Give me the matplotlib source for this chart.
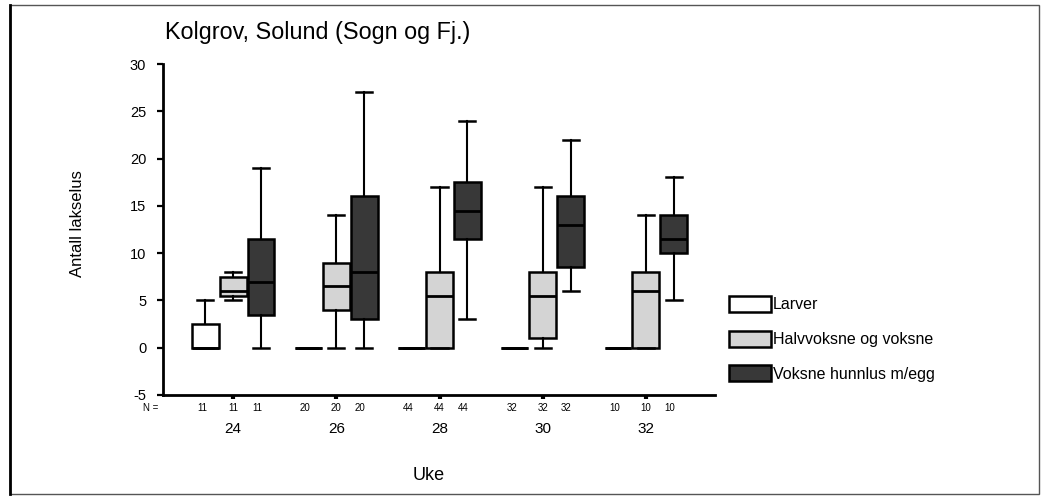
import matplotlib
matplotlib.use("Agg")
import matplotlib.pyplot as plt
from matplotlib.patches import Patch, Rectangle
from matplotlib.lines import Line2D

plt.rcParams['font.family'] = ['Liberation Sans', 'DejaVu Sans']
plt.rcParams['axes.unicode_minus'] = False

weeks = ["24", "26", "28", "30", "32"]
n_obs = [11, 20, 44, 32, 10]
series_names = ["Larver", "Halvvoksne og voksne", "Voksne hunnlus m/egg"]

# Larver
larv_lo = [0, 0, 0, 0, 0]
larv_q1 = [0, 0, 0, 0, 0]
larv_med = [0, 0, 0, 0, 0]
larv_q3 = [2.5, 0, 0, 0, 0]
larv_hi = [5, 0, 0, 0, 0]
# Halvvoksne og voksne
halv_lo = [5, 0, 0, 0, 0]
halv_q1 = [5.5, 4, 0, 1, 0]
halv_med = [6, 6.5, 5.5, 5.5, 6]
halv_q3 = [7.5, 9, 8, 8, 8]
halv_hi = [8, 14, 17, 17, 14]
# Voksne hunnlus m/egg
vok_lo = [0, 0, 3, 6, 5]
vok_q1 = [3.5, 3, 11.5, 8.5, 10]
vok_med = [7, 8, 14.5, 13, 11.5]
vok_q3 = [11.5, 16, 17.5, 16, 14]
vok_hi = [19, 27, 24, 22, 18]

series = [
    (larv_lo, larv_q1, larv_med, larv_q3, larv_hi),
    (halv_lo, halv_q1, halv_med, halv_q3, halv_hi),
    (vok_lo, vok_q1, vok_med, vok_q3, vok_hi),
]
colors = ["white", "#d4d4d4", "#383838"]
offsets = [-0.27, 0.0, 0.27]
box_w = 0.26

W, H = 1042, 497
fig = plt.figure(figsize=(W / 100, H / 100), dpi=100)
ax = fig.add_axes([163 / W, 1 - 395 / H, (715 - 163) / W, (395 - 64) / H])

for (lo, q1, med, q3, hi), col, off in zip(series, colors, offsets):
    stats = []
    for i in range(len(weeks)):
        stats.append(dict(whislo=lo[i], q1=q1[i], med=med[i], q3=q3[i], whishi=hi[i], fliers=[]))
    pos = [i + off for i in range(len(weeks))]
    ax.bxp(stats, positions=pos, widths=box_w, patch_artist=True, showfliers=False,
           capwidths=box_w * 0.6, manage_ticks=False,
           boxprops=dict(facecolor=col, edgecolor='black', linewidth=1.8),
           medianprops=dict(color='black', linewidth=2.0),
           whiskerprops=dict(color='black', linewidth=1.5),
           capprops=dict(color='black', linewidth=1.8))

ax.set_xlim(-0.68, 4.67)
ax.set_ylim(-5, 30)
ax.set_yticks([-5, 0, 5, 10, 15, 20, 25, 30])
ax.tick_params(axis='y', length=4, width=1.6, labelsize=10.5, pad=8)
ax.set_xticks(range(len(weeks)))
ax.set_xticklabels([""] * len(weeks))
ax.tick_params(axis='x', length=3, width=3)
for s in ['top', 'right']:
    ax.spines[s].set_visible(False)
for s in ['left', 'bottom']:
    ax.spines[s].set_linewidth(2)

# N row and week labels
ax.annotate("N =", xy=(0, 0), xycoords='axes fraction', xytext=(-3, -9.4),
            textcoords='offset points', ha='right', va='center', fontsize=7)
n_offsets = [-0.3, 0.0, 0.23]
for i in range(len(weeks)):
    for off in n_offsets:
        ax.annotate(str(n_obs[i]), xy=(i + off, 0), xycoords=('data', 'axes fraction'),
                    xytext=(0, -9.4), textcoords='offset points', ha='center', va='center',
                    fontsize=7)
    ax.annotate(weeks[i], xy=(i, 0), xycoords=('data', 'axes fraction'),
                xytext=(0, -24.5), textcoords='offset points', ha='center', va='center',
                fontsize=11)

fig.text(165 / W, 1 - 33 / H, "Kolgrov, Solund (Sogn og Fj.)", ha='left', va='center', fontsize=16.8)
fig.text(77 / W, 1 - 224 / H, "Antall lakselus", rotation=90, ha='center', va='center', fontsize=12)
fig.text(429 / W, 1 - 476 / H, "Uke", ha='center', va='center', fontsize=13)

handles = [Patch(facecolor=c, edgecolor='black', linewidth=1.8) for c in colors]
fig.legend(handles, series_names, loc='upper left', bbox_to_anchor=(729 / W, 1 - 296 / H),
           frameon=False, fontsize=11.5, handlelength=2.6, handleheight=1.15,
           handletextpad=0.15, labelspacing=1.15, borderpad=0, borderaxespad=0)

# figure frame
fig.patches.append(Rectangle((10 / W, 3 / H), (1039 - 10) / W, (492 - 3) / H,
                             transform=fig.transFigure, fill=False, edgecolor='#555555',
                             linewidth=1.0))
fig.lines.append(Line2D([10 / W, 10 / W], [3 / H, 1 - 5 / H], transform=fig.transFigure,
                        color='black', linewidth=2))

fig.savefig("out.png", dpi=100)
